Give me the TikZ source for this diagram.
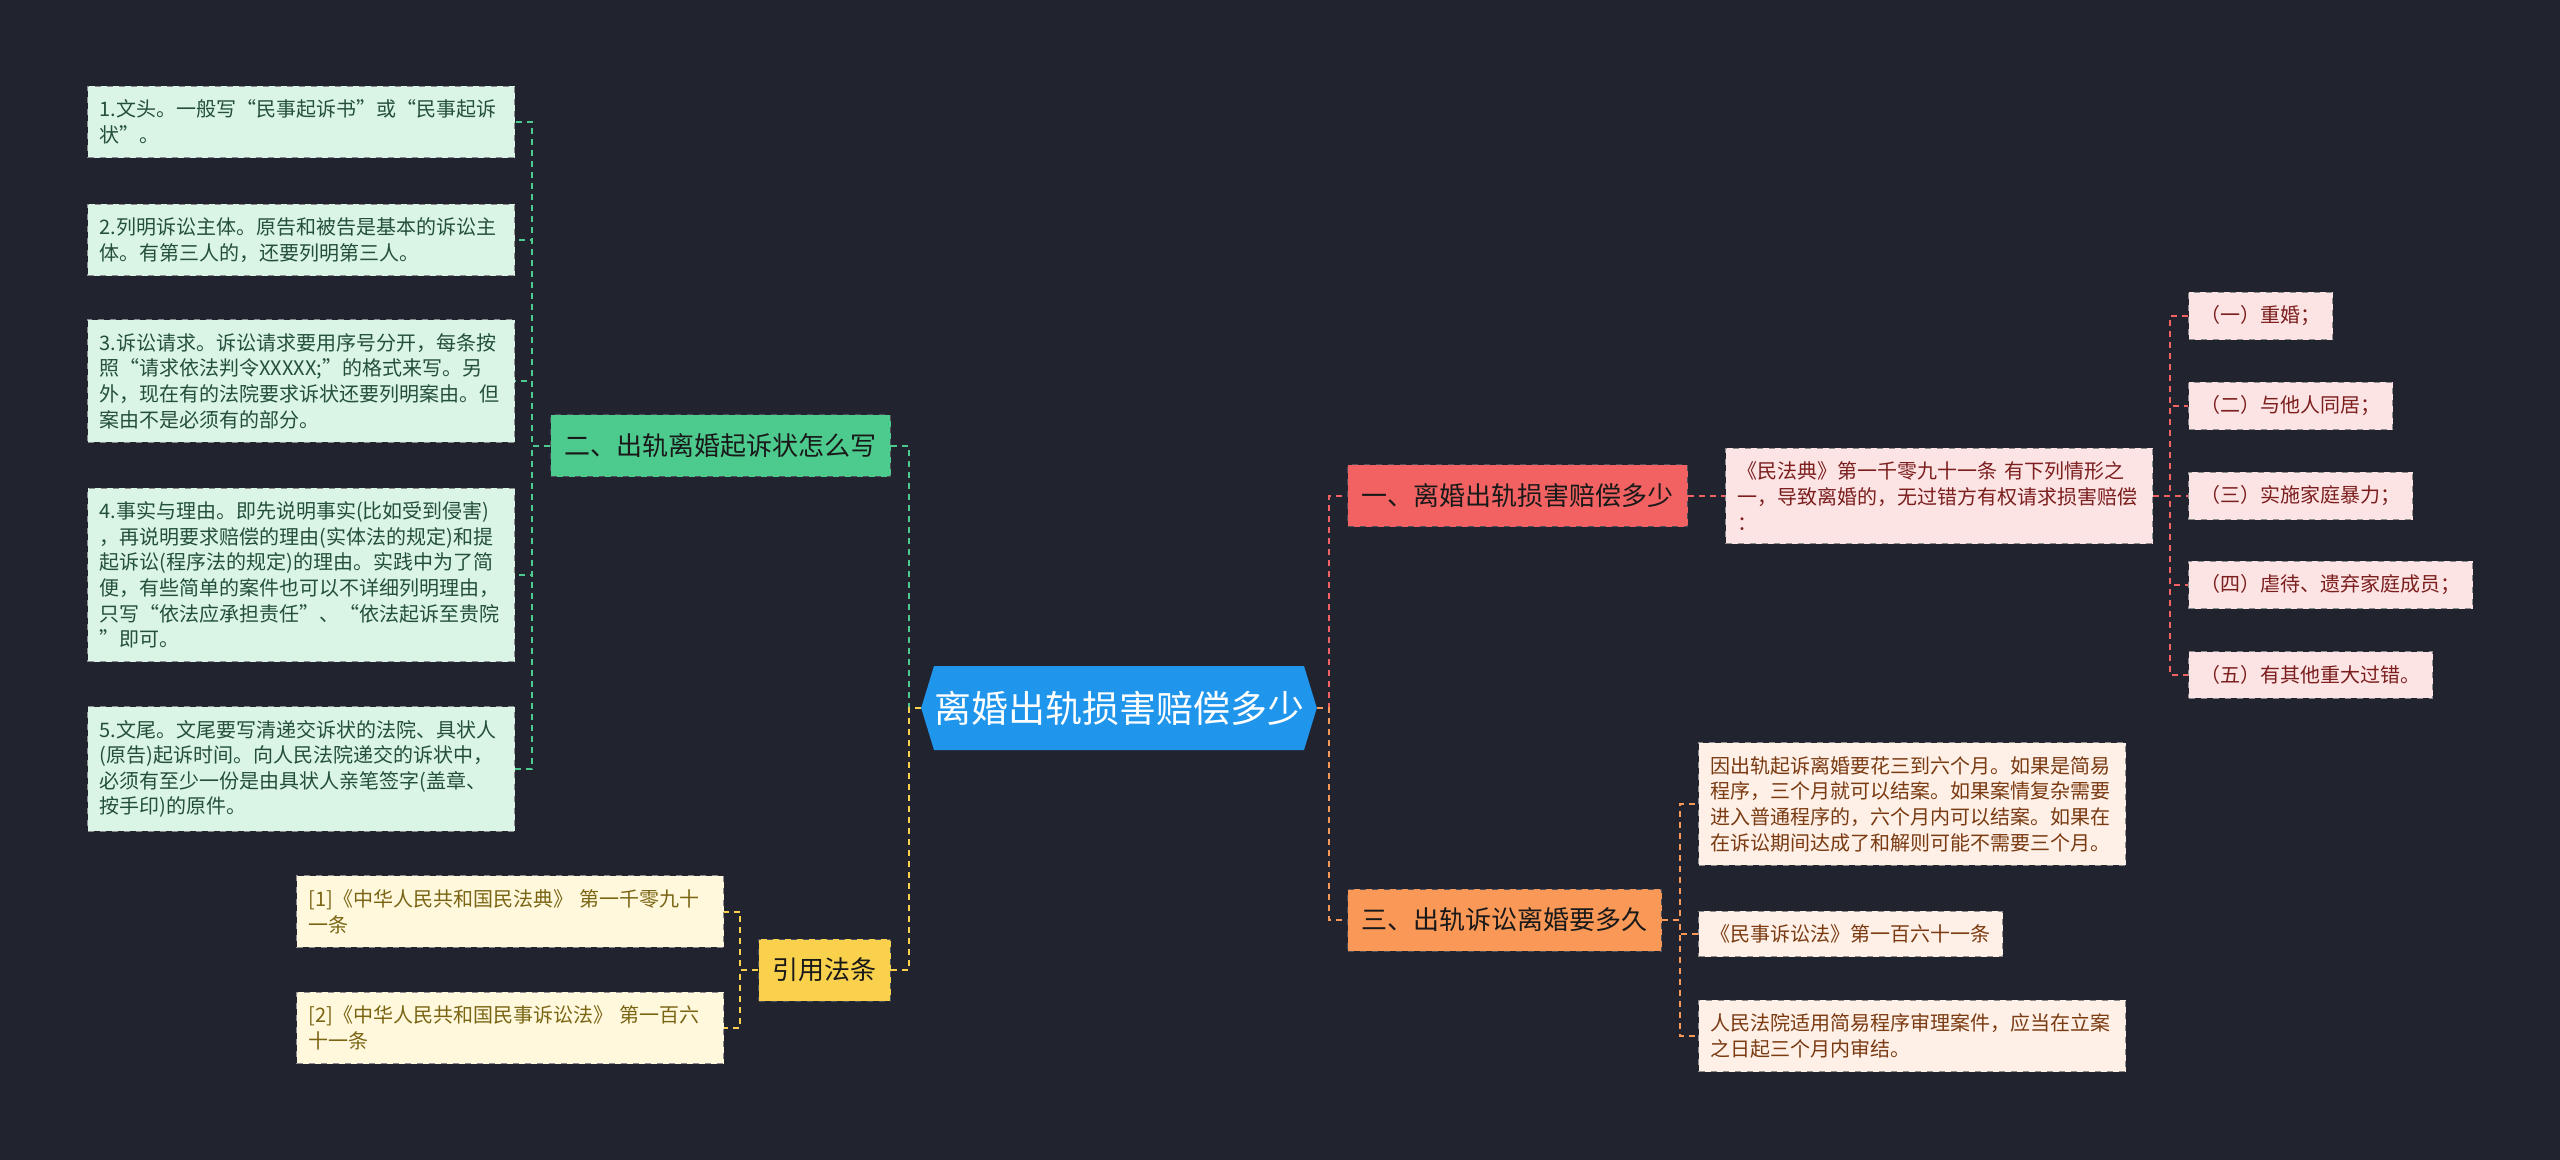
\documentclass[tikz,border=0pt]{standalone}
\usepackage{fontspec}
\setmainfont{Noto Sans CJK SC}
\usetikzlibrary{shapes.symbols}

\definecolor{bgcol}{HTML}{21242F}
\definecolor{rootcol}{HTML}{1F95EC}
\definecolor{grnB}{HTML}{4DCA8D}
\definecolor{grnL}{HTML}{DAF4E6}
\definecolor{grnT}{HTML}{24503A}
\definecolor{redB}{HTML}{F36262}
\definecolor{redL}{HTML}{FDE4E4}
\definecolor{redT}{HTML}{7B1E1E}
\definecolor{orgB}{HTML}{F99857}
\definecolor{orgL}{HTML}{FEF0E6}
\definecolor{orgT}{HTML}{7A3A12}
\definecolor{ylwB}{HTML}{F9D14D}
\definecolor{ylwL}{HTML}{FFF8DC}
\definecolor{ylwT}{HTML}{7A6514}

\begin{document}
\begin{tikzpicture}[x=0.5pt, y=-0.5pt]
                % 1. Styles
                \tikzstyle{Root} = [signal, signal to=west and east, signal pointer angle=146, fill=rootcol, text=white, font=\fontsize{18.5pt}{23pt}\selectfont, minimum height=42pt, minimum width=170pt, inner xsep=0pt, inner ysep=0pt]
                \tikzstyle{Branch} = [draw=bgcol!80, dashed, line width=0.5pt, font=\fontsize{13pt}{16pt}\selectfont, text=black!90, minimum height=31pt, inner xsep=7pt, inner ysep=0pt]
                \tikzstyle{Leaf} = [draw=black!45, dashed, line width=0.5pt, font=\fontsize{10pt}{12.8pt}\selectfont, inner xsep=6pt, inner ysep=6.8pt, align=left]
                \tikzstyle{LeafW} = [Leaf, text width=201.5pt]
                \tikzstyle{Link} = [line width=1pt, dash pattern=on 3pt off 2.5pt]

                % 2. Canvas
                \fill[bgcol] (0,0) rectangle (2560,1160);
                \useasboundingbox (0,0) rectangle (2560,1160);

                % 3. Root and main branches
                \node[Root] (root) at (1119,708) {离婚出轨损害赔偿多少};
                \node[Branch, fill=redB, anchor=west] (b1) at (1347,496) {一、离婚出轨损害赔偿多少};
                \node[Branch, fill=grnB, anchor=east] (b2) at (891,446) {二、出轨离婚起诉状怎么写};
                \node[Branch, fill=orgB, anchor=west] (b3) at (1347,920) {三、出轨诉讼离婚要多久};
                \node[Branch, fill=ylwB, anchor=east] (b4) at (891,970) {引用法条};

                % 4. Leaves of branch two (left, green)
                \node[LeafW, fill=grnL, text=grnT, anchor=west] (g1) at (87,122)
                  {1.文头。一般写“民事起诉书”或“民事起诉\\状”。};
                \node[LeafW, fill=grnL, text=grnT, anchor=west] (g2) at (87,240)
                  {2.列明诉讼主体。原告和被告是基本的诉讼主\\体。有第三人的，还要列明第三人。};
                \node[LeafW, fill=grnL, text=grnT, anchor=west] (g3) at (87,381)
                  {3.诉讼请求。诉讼请求要用序号分开，每条按\\照“请求依法判令XXXXX;”的格式来写。另\\外，现在有的法院要求诉状还要列明案由。但\\案由不是必须有的部分。};
                \node[LeafW, fill=grnL, text=grnT, anchor=west] (g4) at (87,575)
                  {4.事实与理由。即先说明事实(比如受到侵害)\\，再说明要求赔偿的理由(实体法的规定)和提\\起诉讼(程序法的规定)的理由。实践中为了简\\便，有些简单的案件也可以不详细列明理由，\\只写“依法应承担责任”、“依法起诉至贵院\\”即可。};
                \node[LeafW, fill=grnL, text=grnT, anchor=west] (g5) at (87,769)
                  {5.文尾。文尾要写清递交诉状的法院、具状人\\(原告)起诉时间。向人民法院递交的诉状中，\\必须有至少一份是由具状人亲笔签字(盖章、\\按手印)的原件。};

                % 5. Leaves of branch one (right, red)
                \node[LeafW, fill=redL, text=redT, anchor=west] (r0) at (1725,496)
                  {《民法典》第一千零九十一条 有下列情形之\\一，导致离婚的，无过错方有权请求损害赔偿\\：};
                \node[Leaf, fill=redL, text=redT, anchor=west] (r1) at (2188,316) {（一）重婚；};
                \node[Leaf, fill=redL, text=redT, anchor=west] (r2) at (2188,406) {（二）与他人同居；};
                \node[Leaf, fill=redL, text=redT, anchor=west] (r3) at (2188,496) {（三）实施家庭暴力；};
                \node[Leaf, fill=redL, text=redT, anchor=west] (r4) at (2188,585) {（四）虐待、遗弃家庭成员；};
                \node[Leaf, fill=redL, text=redT, anchor=west] (r5) at (2188,675) {（五）有其他重大过错。};

                % 6. Leaves of branch three (right, orange)
                \node[LeafW, fill=orgL, text=orgT, anchor=west] (o1) at (1698,804)
                  {因出轨起诉离婚要花三到六个月。如果是简易\\程序，三个月就可以结案。如果案情复杂需要\\进入普通程序的，六个月内可以结案。如果在\\在诉讼期间达成了和解则可能不需要三个月。};
                \node[Leaf, fill=orgL, text=orgT, anchor=west] (o2) at (1698,934) {《民事诉讼法》第一百六十一条};
                \node[LeafW, fill=orgL, text=orgT, anchor=west] (o3) at (1698,1036)
                  {人民法院适用简易程序审理案件，应当在立案\\之日起三个月内审结。};

                % 7. Leaves of the citations (left, yellow)
                \node[LeafW, fill=ylwL, text=ylwT, anchor=west] (y1) at (296,911.5)
                  {[1]《中华人民共和国民法典》 第一千零九十\\一条};
                \node[LeafW, fill=ylwL, text=ylwT, anchor=west] (y2) at (296,1028)
                  {[2]《中华人民共和国民事诉讼法》 第一百六\\十一条};

                % 8. Junctions of the elbow connectors
                \coordinate (jL)   at (909,708);
                \coordinate (jR)   at (1329,708);
                \coordinate (jG)   at (532,446);
                \coordinate (jRed) at (2170,496);
                \coordinate (jO)   at (1680,920);
                \coordinate (jY)   at (740,970);

                % 9. Connectors
                \draw[Link, grnB] (root.west) -- (jL) |- (b2.east);
                \draw[Link, ylwB] (root.west) -- (jL) |- (b4.east);
                \draw[Link, redB] (root.east) -- (jR) |- (b1.west);
                \draw[Link, orgB] (root.east) -- (jR) |- (b3.west);
                \foreach \n in {g1,g2,g3,g4,g5}
                  \draw[Link, grnB] (b2.west) -- (jG) |- (\n.east);
                \draw[Link, redB] (b1.east) -- (r0.west);
                \foreach \n in {r1,r2,r3,r4,r5}
                  \draw[Link, redB] (r0.east) -- (jRed) |- (\n.west);
                \foreach \n in {o1,o2,o3}
                  \draw[Link, orgB] (b3.east) -- (jO) |- (\n.west);
                \foreach \n in {y1,y2}
                  \draw[Link, ylwB] (b4.west) -- (jY) |- (\n.east);

            \end{tikzpicture}
\end{document}
